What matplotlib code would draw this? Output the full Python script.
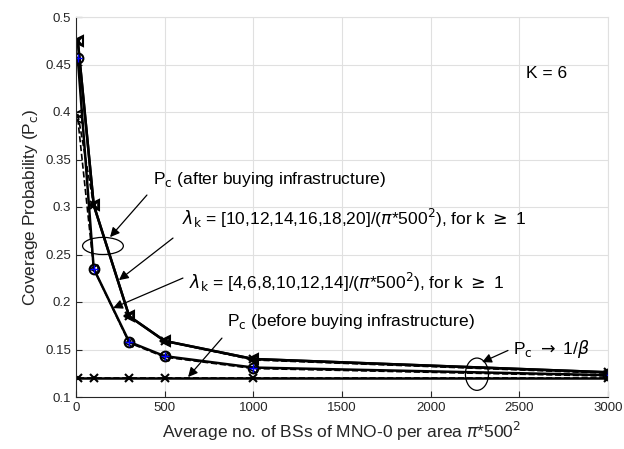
import matplotlib
matplotlib.use("Agg")
import matplotlib.pyplot as plt
from matplotlib.patches import Ellipse

plt.rcParams['font.family'] = ['Liberation Sans', 'DejaVu Sans']

x_bs = [10, 100, 300, 500, 1000, 3000]
pc_after_hi = [0.475, 0.302, 0.185, 0.159, 0.140, 0.126]
pc_after_hi_sim = [0.398, 0.302, 0.185, 0.159, 0.139, 0.125]
pc_after_lo = [0.457, 0.235, 0.158, 0.143, 0.131, 0.123]
pc_after_lo_sim = [0.393, 0.235, 0.157, 0.142, 0.130, 0.122]
pc_before = [0.12, 0.12, 0.12, 0.12, 0.12, 0.12]
pc_before_sim = [0.12, 0.12, 0.12, 0.12, 0.12, 0.12]

xticks = [0, 500, 1000, 1500, 2000, 2500, 3000]
yticks = [0.1, 0.15, 0.2, 0.25, 0.3, 0.35, 0.4, 0.45, 0.5]
ytick_labels = ['0.1', '0.15', '0.2', '0.25', '0.3', '0.35', '0.4', '0.45', '0.5']

fig = plt.figure(figsize=(6.24, 4.49), dpi=100)
ax = fig.add_axes([76/624, 1-397/449, 532/624, 380/449])

ax.plot(x_bs, pc_after_hi_sim, 'k--', lw=1.2, marker='<', ms=6, mfc='none', mew=1.2)
ax.plot(x_bs, pc_after_lo_sim, 'k--', lw=1.2, marker='<', ms=6, mfc='none', mew=1.2)
ax.plot(x_bs, pc_before_sim, 'k--', lw=1.2)
ax.plot(x_bs, pc_after_hi, 'k-', lw=1.8, marker='<', ms=7, mfc='none', mew=1.5)
ax.plot(x_bs, pc_after_hi, 'k-', lw=1.8, marker='x', ms=6, mew=1.5)
ax.plot(x_bs, pc_after_lo, 'k-', lw=1.8, marker='o', ms=7, mfc='none', mew=1.5)
ax.plot(x_bs, pc_after_lo, ls='none', marker='+', ms=6, color='blue', mew=1.0)
ax.plot(x_bs, pc_before, 'k-', lw=1.8, marker='x', ms=6, mew=1.5)

ax.set_xlim(0, 3000)
ax.set_ylim(0.1, 0.5)
ax.set_xticks(xticks)
ax.set_yticks(yticks)
ax.set_yticklabels(ytick_labels)
ax.tick_params(direction='in', labelsize=9.5, colors='#262626', length=4)
ax.grid(True, color='#e0e0e0', lw=0.8)
ax.set_axisbelow(True)
for s in ['top', 'right']:
    ax.spines[s].set_color('#e0e0e0')
for s in ['left', 'bottom']:
    ax.spines[s].set_color('#262626')

ax.set_xlabel(r'Average no. of BSs of MNO-0 per area $\pi$*500$^2$', fontsize=12.5, color='#262626')
ax.set_ylabel(r'Coverage Probability (P$_\mathrm{c}$)', fontsize=12.5, color='#262626')

fs = 12.5
ax.text(2540, 0.441, 'K = 6', fontsize=fs, va='center')

arrowprops = dict(arrowstyle='-|>', color='k', lw=0.9, mutation_scale=14, shrinkA=0, shrinkB=0)

ax.text(434, 0.329, r'P$_\mathrm{c}$ (after buying infrastructure)', fontsize=fs, va='center')
ax.annotate('', xy=(192, 0.2683), xytext=(400, 0.3126), arrowprops=arrowprops)
ax.add_patch(Ellipse((152, 0.259), 230, 0.018, fill=False, ec='k', lw=0.9))

ax.text(600, 0.288, r'$\lambda_\mathrm{k}$ = [10,12,14,16,18,20]/($\pi$*500$^2$), for k $\geq$ 1', fontsize=fs, va='center')
ax.annotate('', xy=(242, 0.223), xytext=(547, 0.2673), arrowprops=arrowprops)

ax.text(640, 0.221, r'$\lambda_\mathrm{k}$ = [4,6,8,10,12,14]/($\pi$*500$^2$), for k $\geq$ 1', fontsize=fs, va='center')
ax.annotate('', xy=(209, 0.1936), xytext=(603, 0.2252), arrowprops=arrowprops)

ax.text(851, 0.179, r'P$_\mathrm{c}$ (before buying infrastructure)', fontsize=fs, va='center')
ax.annotate('', xy=(632, 0.121), xytext=(823, 0.162), arrowprops=arrowprops)

ax.text(2464, 0.150, r'P$_\mathrm{c}$ $\rightarrow$ 1/$\beta$', fontsize=fs, va='center')
ax.annotate('', xy=(2290, 0.1367), xytext=(2436, 0.149), arrowprops=arrowprops)
ax.add_patch(Ellipse((2261, 0.124), 130, 0.034, fill=False, ec='k', lw=0.9))

fig.savefig('out.png', dpi=100)
